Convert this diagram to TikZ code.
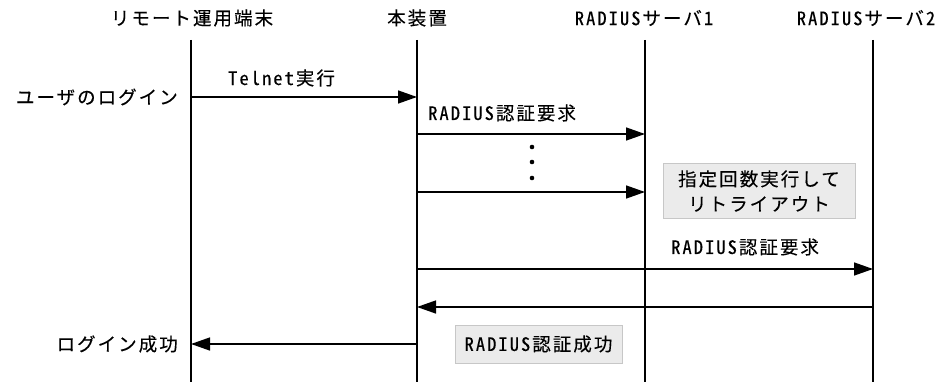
\documentclass[tikz,border=0pt]{standalone}
\usepackage{fontspec}
\setmainfont{Noto Sans CJK JP}[LetterSpace=11,RawFeature=+hwid,FakeBold=0.25]
\usetikzlibrary{arrows.meta}
\tikzset{
  lifeline/.style={line width=1.3pt, black},
  msg/.style={line width=1.4pt, black, -{Triangle[length=19pt,width=13pt]}},
  lbl/.style={inner sep=0pt, font=\fontsize{18.5}{22}\selectfont},
  graybox/.style={draw=black!22, fill=black!8, line width=1pt, inner sep=0pt, align=center, font=\fontsize{18.5}{25}\selectfont},
  dotmark/.style={fill=black, draw=none}
}
\begin{document}
\begin{tikzpicture}[x=1pt,y=-1pt]
\useasboundingbox (0,0) rectangle (944,382);
% headers
\node[lbl] (h1) at (192,18) {リモート運用端末};
\node[lbl] (h2) at (417,18) {本装置};
\node[lbl] (h3) at (644,18) {RADIUSサーバ1};
\node[lbl] (h4) at (866,18) {RADIUSサーバ2};
% lifelines
\coordinate (t1) at (191,40); \coordinate (b1) at (191,382);
\coordinate (t2) at (417,40); \coordinate (b2) at (417,382);
\coordinate (t3) at (645,40); \coordinate (b3) at (645,382);
\coordinate (t4) at (873,40); \coordinate (b4) at (873,382);
\draw[lifeline] (t1) -- (b1);
\draw[lifeline] (t2) -- (b2);
\draw[lifeline] (t3) -- (b3);
\draw[lifeline] (t4) -- (b4);
% message points
\coordinate (m1a) at (191,97);  \coordinate (m1b) at (417,97);
\coordinate (m2a) at (417,134); \coordinate (m2b) at (645,134);
\coordinate (m3a) at (417,192); \coordinate (m3b) at (645,192);
\coordinate (m4a) at (417,269); \coordinate (m4b) at (873,269);
\coordinate (m5a) at (873,307); \coordinate (m5b) at (417,307);
\coordinate (m6a) at (417,344); \coordinate (m6b) at (191,344);
\draw[msg] (m1a) -- (m1b);
\draw[msg] (m2a) -- (m2b);
\draw[msg] (m3a) -- (m3b);
\draw[msg] (m4a) -- (m4b);
\draw[msg] (m5a) -- (m5b);
\draw[msg] (m6a) -- (m6b);
% labels
\node[lbl, anchor=east] (user) at (178,97) {ユーザのログイン};
\node[lbl, anchor=west] (telnet) at (228,78) {Telnet実行};
\node[lbl, anchor=west] (req1) at (428,113) {RADIUS認証要求};
\node[lbl, anchor=west] (req2) at (671,247) {RADIUS認証要求};
\node[lbl, anchor=east] (ok) at (178,344) {ログイン成功};
% dots
\fill[dotmark] (532,147) circle (2.3pt);
\fill[dotmark] (532,162) circle (2.3pt);
\fill[dotmark] (532,178) circle (2.3pt);
% boxes
\node[graybox, minimum width=192pt, minimum height=54pt] (retry) at (759,191) {指定回数実行して\\リトライアウト};
\node[graybox, minimum width=167pt, minimum height=38pt] (auth) at (538.5,344) {RADIUS認証成功};
\end{tikzpicture}
\end{document}
